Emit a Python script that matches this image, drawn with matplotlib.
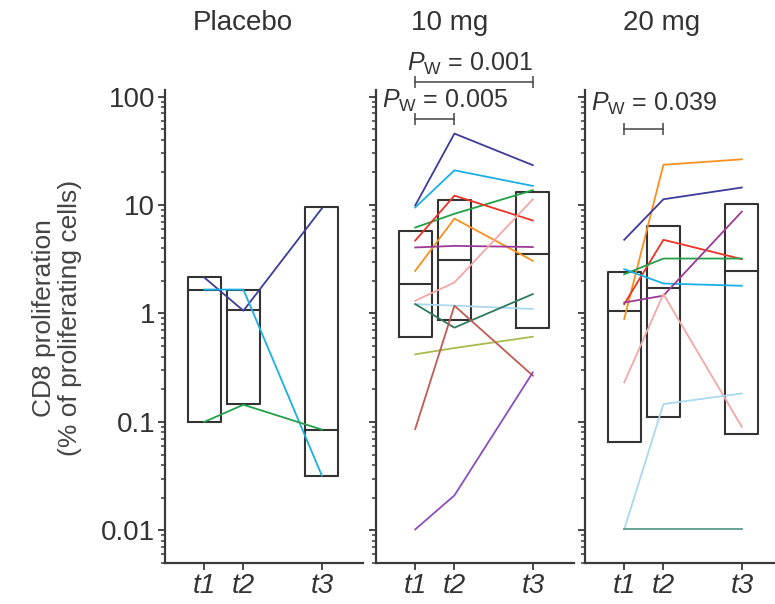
import matplotlib
matplotlib.use('Agg')
import matplotlib.pyplot as plt
import matplotlib.ticker as mticker
import matplotlib.transforms as mtrans

plt.rcParams['font.family'] = ['Liberation Sans', 'DejaVu Sans']
plt.rcParams['mathtext.fontset'] = 'custom'
plt.rcParams['mathtext.rm'] = 'Liberation Sans'
plt.rcParams['mathtext.it'] = 'Liberation Sans:italic'

# --- data ---
time_pos = [1, 2, 4]
time_labels = ['t1', 't2', 't3']
panel_titles = ['Placebo', '10 mg', '20 mg']

# placebo patients
placebo_navy = [2.15, 1.06, 9.3]
placebo_cyan = [1.66, 1.66, 0.032]
placebo_green = [0.1, 0.144, 0.085]

# 10 mg patients
mg10_navy = [9.9, 45.6, 23.3]
mg10_cyan = [9.5, 20.9, 15.0]
mg10_green = [6.2, 8.3, 13.7]
mg10_red = [4.7, 12.2, 7.2]
mg10_orange = [2.47, 7.5, 3.06]
mg10_purple = [4.06, 4.2, 4.1]
mg10_pink = [1.31, 1.93, 11.3]
mg10_lightblue = [1.22, 1.18, 1.10]
mg10_teal = [1.22, 0.74, 1.51]
mg10_olive = [0.42, 0.48, 0.61]
mg10_brown = [0.086, 1.18, 0.267]
mg10_violet = [0.0102, 0.021, 0.286]

# 20 mg patients
mg20_orange = [0.89, 23.5, 26.4]
mg20_navy = [4.78, 11.3, 14.5]
mg20_red = [1.22, 4.78, 3.17]
mg20_green = [2.30, 3.21, 3.21]
mg20_cyan = [2.56, 1.89, 1.80]
mg20_purple = [1.26, 1.46, 8.7]
mg20_pink = [0.231, 1.51, 0.090]
mg20_lightblue = [0.0102, 0.146, 0.183]
mg20_teal = [0.0102, 0.0102, 0.0102]

# boxes: lower, median, upper at t1, t2, t3
placebo_box_low = [0.1, 0.145, 0.032]
placebo_box_med = [1.66, 1.07, 0.084]
placebo_box_high = [2.19, 1.66, 9.5]
mg10_box_low = [0.61, 0.87, 0.74]
mg10_box_med = [1.86, 3.1, 3.5]
mg10_box_high = [5.8, 11.1, 13.2]
mg20_box_low = [0.065, 0.112, 0.077]
mg20_box_med = [1.06, 1.71, 2.47]
mg20_box_high = [2.39, 6.43, 10.2]

panels = [
    [(placebo_navy, '#3d3b9a'), (placebo_cyan, '#1aafe6'), (placebo_green, '#22a04a')],
    [(mg10_navy, '#3d3b9a'), (mg10_cyan, '#1aafe6'), (mg10_green, '#22a04a'),
     (mg10_red, '#ec3323'), (mg10_orange, '#f7901e'), (mg10_purple, '#9b3b96'),
     (mg10_pink, '#f5a6a6'), (mg10_lightblue, '#a9d8f0'), (mg10_teal, '#2d7a5c'),
     (mg10_olive, '#a9ba4e'), (mg10_brown, '#c05a55'), (mg10_violet, '#8a4fbd')],
    [(mg20_orange, '#f7901e'), (mg20_navy, '#3d3b9a'), (mg20_red, '#ec3323'),
     (mg20_green, '#22a04a'), (mg20_cyan, '#1aafe6'), (mg20_purple, '#9b3b96'),
     (mg20_pink, '#f5a6a6'), (mg20_lightblue, '#a9d8f0'), (mg20_teal, '#5e9b90')],
]
boxes = [
    (placebo_box_low, placebo_box_med, placebo_box_high),
    (mg10_box_low, mg10_box_med, mg10_box_high),
    (mg20_box_low, mg20_box_med, mg20_box_high),
]

# --- figure ---
W, H = 775, 604
fig = plt.figure(figsize=(W / 100, H / 100), dpi=100)

lefts = [165, 376, 585]
ax_w, ax_bottom, ax_top = 198, 563, 90
title_x = [243, 450, 662]
text_col = '#333333'
axis_col = '#3a3a3a'
box_w = 0.85

axes = []
for i, left in enumerate(lefts):
    ax = fig.add_axes([left / W, (H - ax_bottom) / H, ax_w / W, (ax_bottom - ax_top) / H])
    ax.set_yscale('log')
    ax.set_ylim(0.005, 115)
    ax.set_xlim(0, 5.05)

    low, med, high = boxes[i]
    for x, lo, md, hi in zip(time_pos, low, med, high):
        ax.plot([x - box_w / 2, x + box_w / 2, x + box_w / 2, x - box_w / 2, x - box_w / 2],
                [lo, lo, hi, hi, lo], color='#333333', lw=1.5, zorder=2)
        ax.plot([x - box_w / 2, x + box_w / 2], [md, md], color='#333333', lw=1.5, zorder=2)

    for vals, col in panels[i]:
        ax.plot(time_pos, vals, color=col, lw=1.3, zorder=3)

    for s in ['top', 'right']:
        ax.spines[s].set_visible(False)
    for s in ['left', 'bottom']:
        ax.spines[s].set_color(axis_col)
        ax.spines[s].set_linewidth(1.6)

    ax.set_xticks(time_pos)
    ax.set_xticklabels(time_labels, fontstyle='italic', fontsize=20, color=text_col)
    ax.tick_params(axis='x', direction='out', length=5, width=1.3, color=axis_col, pad=2)
    ax.yaxis.set_major_locator(mticker.LogLocator(base=10, numticks=10))
    ax.yaxis.set_minor_locator(mticker.LogLocator(base=10, subs=range(2, 10), numticks=10))
    ax.yaxis.set_minor_formatter(mticker.NullFormatter())
    ax.tick_params(axis='y', which='major', direction='out', length=5, width=1.3, color=axis_col, pad=2)
    ax.tick_params(axis='y', which='minor', direction='out', length=3, width=1.1, color=axis_col)
    if i == 0:
        ax.set_yticks([0.01, 0.1, 1, 10, 100])
        ax.set_yticklabels(['0.01', '0.1', '1', '10', '100'], fontsize=20, color=text_col)
    else:
        ax.yaxis.set_major_formatter(mticker.NullFormatter())
    ax.set_facecolor('none')
    fig.text(title_x[i] / W, 1 - 23 / H, panel_titles[i], ha='center', va='center',
             fontsize=20, color=text_col)
    axes.append(ax)

# significance brackets
def bracket(ax, x1, x2, yb, label, xt, yt):
    tr = mtrans.blended_transform_factory(ax.transData, ax.transAxes)
    ax.plot([x1, x2], [yb, yb], color='#444444', lw=1.1, transform=tr, clip_on=False,
            marker='|', markersize=8, markeredgewidth=1.1)
    ax.text(xt, yt, label, transform=tr, ha='center', va='center', fontsize=18,
            color=text_col, clip_on=False)

bracket(axes[1], 1, 4, 1.017, r'$P_{\mathrm{W}}$ = 0.001', 2.4, 1.055)
bracket(axes[1], 1, 2, 0.939, r'$P_{\mathrm{W}}$ = 0.005', 1.75, 0.977)
bracket(axes[2], 1, 2, 0.918, r'$P_{\mathrm{W}}$ = 0.039', 1.75, 0.97)

fig.text(57 / W, 1 - 318 / H, 'CD8 proliferation\n(% of proliferating cells)', rotation=90,
         ha='center', va='center', fontsize=19, color='#444444', linespacing=1.1)

fig.savefig('out.png', dpi=100)
